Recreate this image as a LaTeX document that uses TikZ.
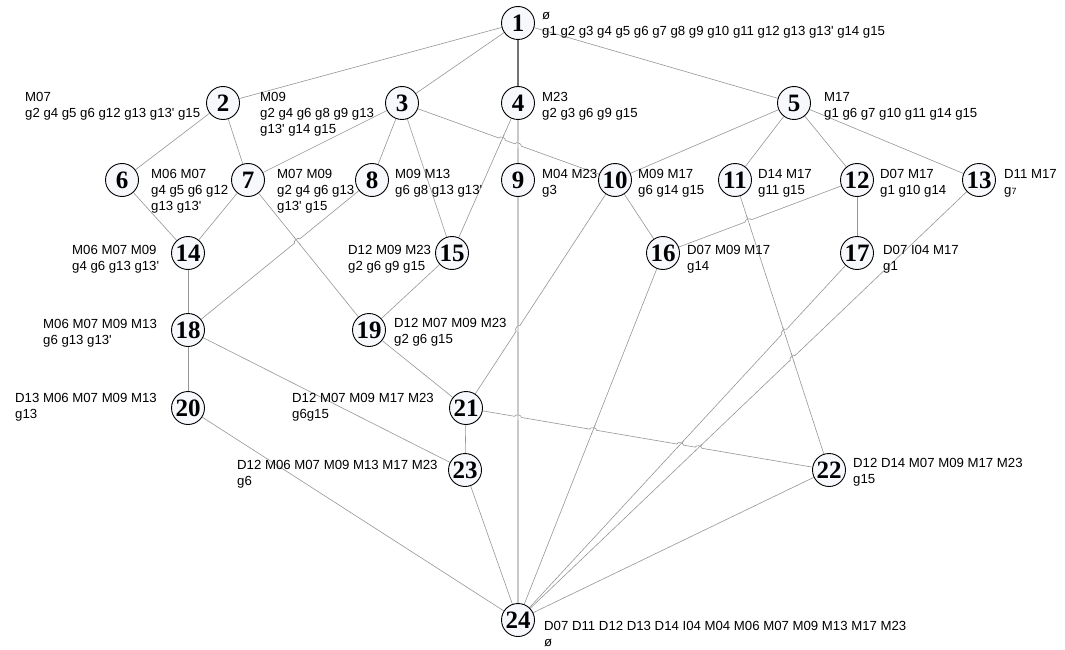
\documentclass[tikz,border=0pt]{standalone}
\usepackage{fontspec}
\setmainfont{Liberation Sans}[Ligatures=TeXOff]
\newfontfamily\numfont{Liberation Serif}
\usetikzlibrary{calc}
\definecolor{edgegray}{RGB}{150,150,150}
\definecolor{darkedge}{RGB}{115,115,115}
\definecolor{lightedge}{RGB}{200,200,200}
\definecolor{nodefill}{RGB}{246,248,252}
\pgfdeclarelayer{edges}
\pgfsetlayers{edges,main}
\tikzset{
  vtx/.style={circle, draw=black, line width=0.9pt, fill=nodefill, minimum size=33pt, inner sep=0pt,
    font=\numfont\bfseries\fontsize{25}{25}\selectfont},
  edge/.style={draw=edgegray, line width=0.6pt},
  dedge/.style={draw=darkedge, line width=1.1pt},
  vedge/.style={draw=lightedge, line width=1.4pt},
  lab/.style={anchor=north west, inner sep=0pt, align=left, font=\fontsize{13.2}{16}\selectfont},
}
% hopping line #2--#3 (left to right) jumps over line #4--#5 drawn with style #1
\newcommand\hop[5][edge]{%
  \coordinate (hp) at (intersection of #2.center--#3.center and #4.center--#5.center);
  \fill[white] (hp) circle (3.4pt);
  \draw[#1] ($(hp)!5pt!(#4.center)$) -- ($(hp)!5pt!(#5.center)$);
  \draw[edge] ($(hp)!3.4pt!(#2.center)$) to[bend left=90] ($(hp)!3.4pt!(#3.center)$);
}
\begin{document}
\begin{tikzpicture}[x=1pt,y=-1pt]
\useasboundingbox (0,0) rectangle (1065,650);
% vertices
\node[vtx] (n1) at (518,23) {1};
\node[vtx] (n2) at (223,103) {2};
\node[vtx] (n3) at (402,103) {3};
\node[vtx] (n4) at (518,103) {4};
\node[vtx] (n5) at (794,103) {5};
\node[vtx] (n6) at (122,180) {6};
\node[vtx] (n7) at (248,180) {7};
\node[vtx] (n8) at (372,180) {8};
\node[vtx] (n9) at (518,180) {9};
\node[vtx] (n10) at (615,180) {10};
\node[vtx] (n11) at (735,180) {11};
\node[vtx] (n12) at (857,180) {12};
\node[vtx] (n13) at (979,180) {13};
\node[vtx] (n14) at (188,253) {14};
\node[vtx] (n15) at (452,253) {15};
\node[vtx] (n16) at (663,253) {16};
\node[vtx] (n17) at (857,253) {17};
\node[vtx] (n18) at (188,330) {18};
\node[vtx] (n19) at (369,330) {19};
\node[vtx] (n20) at (188,408) {20};
\node[vtx] (n21) at (466,408) {21};
\node[vtx] (n22) at (829,470) {22};
\node[vtx] (n23) at (465,470) {23};
\node[vtx] (n24) at (518,620) {24};
% labels
\node[lab] (l1) at (542,8.5) {\strut ø\\g1 g2 g3 g4 g5 g6 g7 g8 g9 g10 g11 g12 g13 g13' g14 g15};
\node[lab] (l2) at (25,90.5) {\strut M07\\g2 g4 g5 g6 g12 g13 g13' g15};
\node[lab] (l3) at (260,90.5) {\strut M09\\g2 g4 g6 g8 g9 g13\\g13' g14 g15};
\node[lab] (l4) at (542,90.5) {\strut M23\\g2 g3 g6 g9 g15};
\node[lab] (l5) at (824,90.5) {\strut M17\\g1 g6 g7 g10 g11 g14 g15};
\node[lab] (l6) at (151,167.5) {\strut M06 M07\\g4 g5 g6 g12\\g13 g13'};
\node[lab] (l7) at (277,167.5) {\strut M07 M09\\g2 g4 g6 g13\\g13' g15};
\node[lab] (l8) at (395,167.5) {\strut M09 M13\\g6 g8 g13 g13'};
\node[lab] (l9) at (542,167.5) {\strut M04 M23\\g3};
\node[lab] (l10) at (638,167.5) {\strut M09 M17\\g6 g14 g15};
\node[lab] (l11) at (758,167.5) {\strut D14 M17\\g11 g15};
\node[lab] (l12) at (880,167.5) {\strut D07 M17\\g1 g10 g14};
\node[lab] (l13) at (1004,167.5) {\strut D11 M17\\g{\fontsize{9}{9}\selectfont 7}};
\node[lab] (l14) at (72,243.5) {\strut M06 M07 M09\\g4 g6 g13 g13'};
\node[lab] (l15) at (348,243.5) {\strut D12 M09 M23\\g2 g6 g9 g15};
\node[lab] (l16) at (687,243.5) {\strut D07 M09 M17\\g14};
\node[lab] (l17) at (883,243.5) {\strut D07 I04 M17\\g1};
\node[lab] (l18) at (43,317.5) {\strut M06 M07 M09 M13\\g6 g13 g13'};
\node[lab] (l19) at (394,316.5) {\strut D12 M07 M09 M23\\g2 g6 g15};
\node[lab] (l20) at (15,391.5) {\strut D13 M06 M07 M09 M13\\g13};
\node[lab] (l21) at (292,391.5) {\strut D12 M07 M09 M17 M23\\g6g15};
\node[lab] (l22) at (853,456.5) {\strut D12 D14 M07 M09 M17 M23\\g15};
\node[lab] (l23) at (237,458.5) {\strut D12 M06 M07 M09 M13 M17 M23\\g6};
\node[lab] (l24) at (544,619.5) {\strut D07 D11 D12 D13 D14 I04 M04 M06 M07 M09 M13 M17 M23\\ø};
% connectors
\begin{pgfonlayer}{edges}
\fill[white] (0,0) rectangle (1065,650);
\draw[edge] (n1) -- (n2);
\draw[edge] (n1) -- (n3);
\draw[dedge] (n1) -- (n4);
\draw[edge] (n1) -- (n5);
\draw[edge] (n2) -- (n6);
\draw[edge] (n2) -- (n7);
\draw[edge] (n3) -- (n7);
\draw[edge] (n3) -- (n8);
\draw[edge] (n3) -- (n15);
\draw[edge] (n3) -- (n10);
\draw[edge] (n4) -- (n15);
\draw[vedge] (n4) -- (n9);
\draw[edge] (n5) -- (n10);
\draw[edge] (n5) -- (n11);
\draw[edge] (n5) -- (n12);
\draw[edge] (n5) -- (n13);
\draw[edge] (n6) -- (n14);
\draw[edge] (n7) -- (n14);
\draw[edge] (n7) -- (n19);
\draw[edge] (n8) -- (n18);
\draw[vedge] (n9) -- (n24);
\draw[edge] (n10) -- (n16);
\draw[edge] (n10) -- (n21);
\draw[edge] (n11) -- (n22);
\draw[edge] (n12) -- (n16);
\draw[edge] (n12) -- (n17);
\draw[edge] (n13) -- (n24);
\draw[edge] (n14) -- (n18);
\draw[edge] (n15) -- (n19);
\draw[edge] (n16) -- (n24);
\draw[edge] (n17) -- (n24);
\draw[edge] (n18) -- (n20);
\draw[edge] (n18) -- (n23);
\draw[edge] (n19) -- (n21);
\draw[edge] (n20) -- (n24);
\draw[edge] (n21) -- (n23);
\draw[edge] (n21) -- (n22);
\draw[edge] (n22) -- (n24);
\draw[edge] (n23) -- (n24);
% line jumps
\hop{n3}{n10}{n4}{n15}
\hop[vedge]{n3}{n10}{n4}{n9}
\hop{n18}{n8}{n7}{n19}
\hop[vedge]{n21}{n10}{n9}{n24}
\hop[vedge]{n21}{n22}{n9}{n24}
\hop{n21}{n22}{n16}{n24}
\hop{n21}{n22}{n17}{n24}
\hop{n21}{n22}{n13}{n24}
\hop{n16}{n12}{n11}{n22}
\hop{n24}{n17}{n11}{n22}
\hop{n24}{n13}{n11}{n22}
\end{pgfonlayer}
\end{tikzpicture}
\end{document}
